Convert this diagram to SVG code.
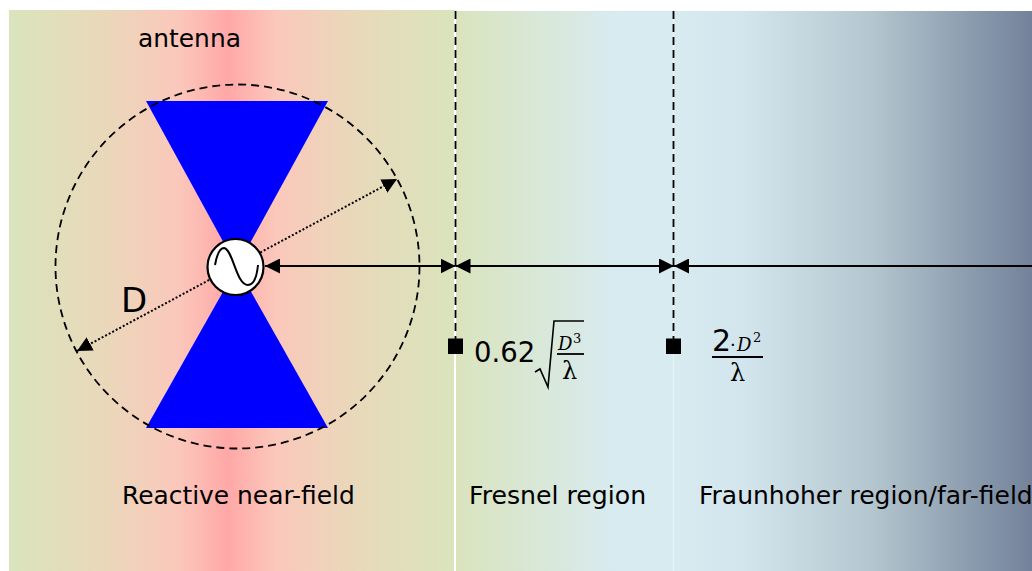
<svg xmlns="http://www.w3.org/2000/svg" width="1032" height="571" viewBox="0 0 1032 571">
<style>
text{font-family:"DejaVu Sans","Liberation Sans",sans-serif;fill:#000}
.lbl{font-size:24.900px}
.m{font-family:"DejaVu Serif",serif}
.conn{stroke:#000;fill:none}
</style>
<defs>
<linearGradient id="g1" x1="0" x2="1" y1="0" y2="0">
<stop offset="0" stop-color="#d9e4bd"/>
<stop offset="0.2" stop-color="#e8d9ba"/>
<stop offset="0.38" stop-color="#fbc8bb"/>
<stop offset="0.49" stop-color="#ffa8a8"/>
<stop offset="0.6" stop-color="#fbc8bb"/>
<stop offset="0.78" stop-color="#e8d9ba"/>
<stop offset="1" stop-color="#d9e4bd"/>
</linearGradient>
<linearGradient id="g2" x1="0" x2="1" y1="0" y2="0">
<stop offset="0" stop-color="#d9e4bd"/>
<stop offset="0.75" stop-color="#d8ebf1"/>
<stop offset="1" stop-color="#d8ebf1"/>
</linearGradient>
<linearGradient id="g3" x1="0" x2="1" y1="0" y2="0">
<stop offset="0" stop-color="#d8ebf1"/>
<stop offset="0.2" stop-color="#d3e5ec"/>
<stop offset="0.55" stop-color="#b4c6cf"/>
<stop offset="1" stop-color="#73829a"/>
</linearGradient>
<marker id="ah" markerWidth="15" markerHeight="15" refX="15" refY="7.500" orient="auto-start-reverse" markerUnits="userSpaceOnUse"><path d="M0,0L15,7.500L0,15Z" fill="#000"/></marker>
</defs>
<g id="background">
<rect x="9" y="10" width="446" height="561" fill="url(#g1)"/>
<rect x="455" y="11" width="219" height="560" fill="url(#g2)"/>
<rect x="674" y="11" width="358" height="560" fill="url(#g3)"/>
<path d="M455 11V571" stroke="#fff" stroke-width="2"/>
<path d="M673.500 11V571" stroke="#e8f4f8" stroke-width="1"/>
</g>
<g id="antenna">
<path d="M146 101H328L237 267Z" fill="#0000ff"/>
<path d="M146 428H328L237 267Z" fill="#0000ff"/>
</g>
<g id="connectors">
<circle cx="237.500" cy="266.500" r="182" class="conn" stroke-width="1.800" stroke-dasharray="8 5"/>
<path d="M77 351L397 179" class="conn" stroke-width="2" stroke-dasharray="2 2" marker-start="url(#ah)" marker-end="url(#ah)"/>
<path d="M265 266H455.500" class="conn" stroke-width="1.800" marker-start="url(#ah)" marker-end="url(#ah)"/>
<path d="M455.500 266H674" class="conn" stroke-width="1.800" marker-start="url(#ah)" marker-end="url(#ah)"/>
<path d="M674 266H1032" class="conn" stroke-width="1.800" marker-start="url(#ah)"/>
<path d="M455.500 11V346" class="conn" stroke-width="1.800" stroke-dasharray="8 5"/>
<path d="M673.500 11V346" class="conn" stroke-width="1.800" stroke-dasharray="8 5"/>
</g>
<g id="source">
<circle cx="235.500" cy="267" r="28" fill="#fff" stroke="#000" stroke-width="2.200"/>
<path d="M215 265C217 254 220 248 224 248C233 249 236 285 248 285C254 285 257 275 258 265" fill="none" stroke="#000" stroke-width="2"/>
</g>
<g id="marker-fresnel"><rect x="448" y="338.500" width="15" height="15.500" fill="#000"/></g>
<g id="marker-far"><rect x="666" y="338.500" width="15" height="15.500" fill="#000"/></g>
<g id="labels">
<text x="138" y="47" class="lbl">antenna</text>
<text x="121" y="312" font-size="34">D</text>
<text x="122" y="504" class="lbl">Reactive near-field</text>
<text x="469" y="504" font-size="25.200">Fresnel region</text>
<text x="699" y="504" font-size="25">Fraunhoher region/far-field</text>
</g>
<g id="formula-fresnel">
<text x="474" y="362" font-size="27.500">0.62</text>
<path d="M535 372L540 369L548 387L554 321H584" fill="none" stroke="#000" stroke-width="1.600"/>
<text x="558" y="350" font-size="18" class="m" font-style="italic">D</text>
<text x="573" y="343" font-size="13" class="m">3</text>
<path d="M557 354H584" stroke="#000" stroke-width="1.800"/>
<text x="562" y="379" font-size="24" class="m">λ</text>
</g>
<g id="formula-far">
<text x="712" y="351" font-size="30">2</text>
<text x="730" y="351" font-size="18" class="m">·</text>
<text x="737" y="351" font-size="18" class="m" font-style="italic">D</text>
<text x="753" y="342" font-size="13" class="m">2</text>
<path d="M712 357H763" stroke="#000" stroke-width="1.800"/>
<text x="730" y="381" font-size="24" class="m">λ</text>
</g>
</svg>
